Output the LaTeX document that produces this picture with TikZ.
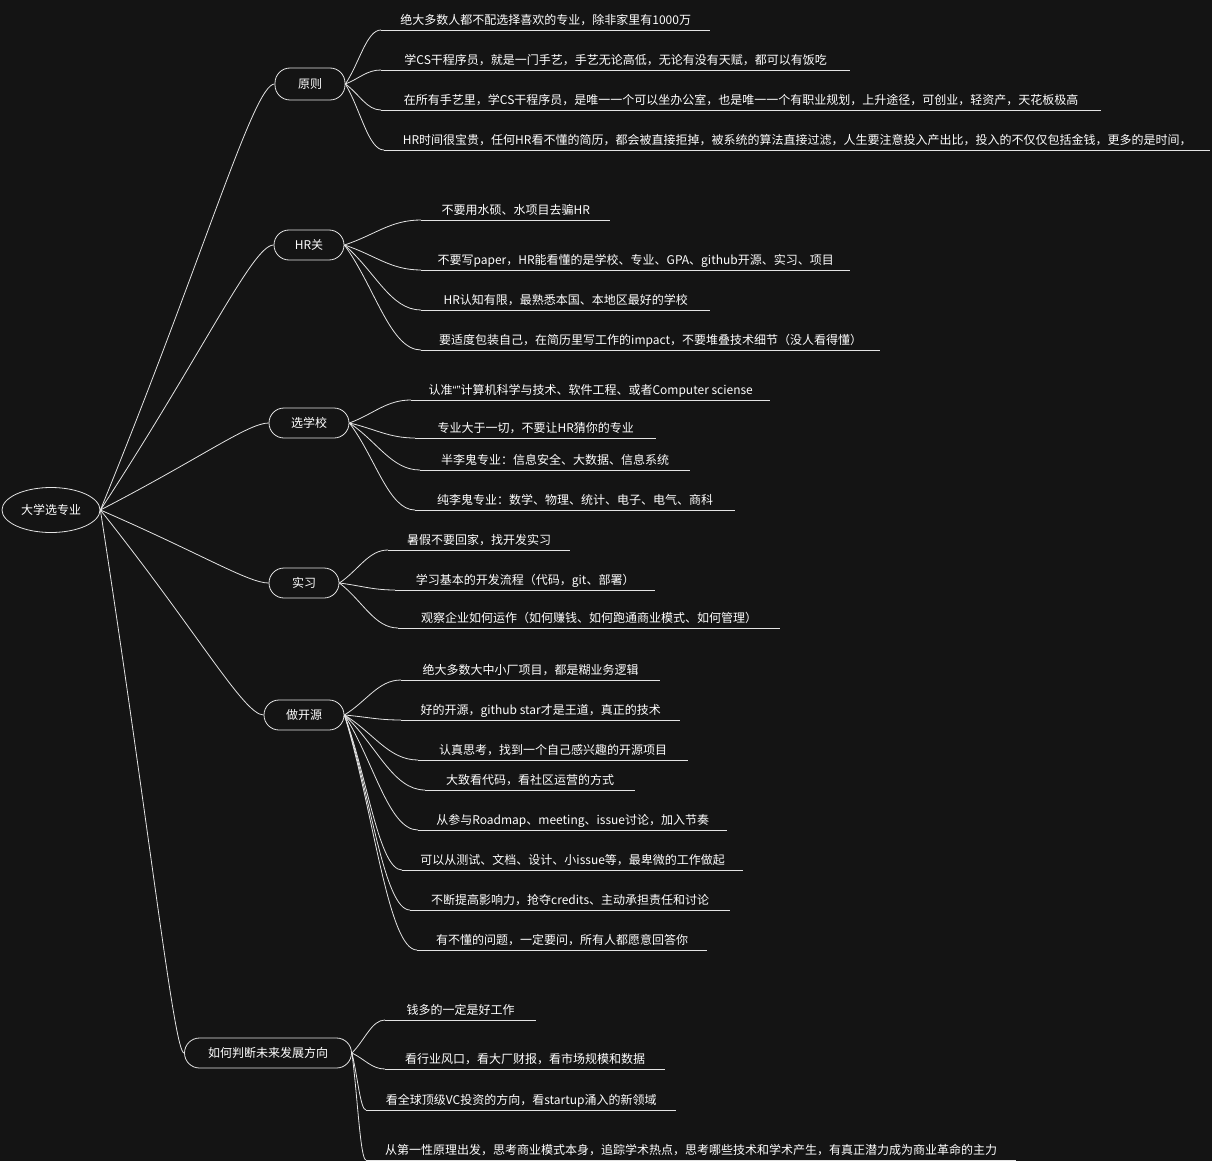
\documentclass[tikz,border=0pt]{standalone}
\usepackage{fontspec}
\setmainfont{Noto Sans CJK SC}
\newfontfamily\quotefont{Liberation Sans}
\usetikzlibrary{calc,shapes.geometric}
\definecolor{canvas}{RGB}{20,20,20}
\definecolor{ink}{RGB}{228,228,228}
\begin{document}
\begin{tikzpicture}[x=1pt,y=-1pt,
  every node/.style={text=white, font=\fontsize{12}{14}\selectfont},
  wire/.style={draw=ink, line width=0.8pt},
  % long, almost straight links from the central topic
  trunk/.style={wire, to path={let \p1=(\tikztostart), \p2=(\tikztotarget) in
      .. controls ($(\p1)!0.6!(\p2)$) and ({\x2-0.12*(\x2-\x1)},\y2) .. (\tikztotarget)}},
  % short curved links from a branch to its items
  link/.style={wire, to path={let \p1=(\tikztostart), \p2=(\tikztotarget) in
      .. controls ($(\p1)!0.4!(\p2)$) and ({\x2-0.4*(\x2-\x1)},\y2) .. (\tikztotarget)}},
  rootbox/.style={ellipse, draw=ink, line width=0.8pt, minimum width=98pt, minimum height=45pt, inner sep=0pt},
  topic/.style={rectangle, rounded corners=15pt, draw=ink, line width=0.8pt, minimum height=30pt, inner sep=0pt},
  leaf/.style={anchor=south west, inner xsep=0pt, inner ysep=2pt, text height=9pt, text depth=3pt,
      minimum width=#1,
      append after command={(\tikzlastnode.south west) edge[wire] (\tikzlastnode.south east)}},
]
\fill[canvas] (0,0) rectangle (1212,1161);
\useasboundingbox (0,0) rectangle (1212,1161);

% central topic and main branches
\node[rootbox] (root) at (51,510) {大学选专业};
\node[topic, minimum width=70pt, minimum height=32pt] (yz) at (310,84) {原则};
\node[topic, minimum width=70pt] (hr) at (309,245) {HR关};
\node[topic, minimum width=80pt] (xx) at (309,423) {选学校};
\node[topic, minimum width=70pt] (sx) at (304,583) {实习};
\node[topic, minimum width=80pt] (ky) at (304,715) {做开源};
\node[topic, minimum width=167pt] (pd) at (268,1053) {如何判断未来发展方向};

% 原则
\node[leaf=329pt] (yz1) at (381,30) {绝大多数人都不配选择喜欢的专业，除非家里有1000万};
\node[leaf=469pt] (yz2) at (381,70) {学CS干程序员，就是一门手艺，手艺无论高低，无论有没有天赋，都可以有饭吃};
\node[leaf=720pt] (yz3) at (381,110) {在所有手艺里，学CS干程序员，是唯一一个可以坐办公室，也是唯一一个有职业规划，上升途径，可创业，轻资产，天花板极高};
\node[leaf=826pt] (yz4) at (384,150) {HR时间很宝贵，任何HR看不懂的简历，都会被直接拒掉，被系统的算法直接过滤，人生要注意投入产出比，投入的不仅仅包括金钱，更多的是时间，};

% HR关
\node[leaf=189pt] (hr1) at (421,220) {不要用水硕、水项目去骗HR};
\node[leaf=429pt] (hr2) at (421,270) {不要写paper，HR能看懂的是学校、专业、GPA、github开源、实习、项目};
\node[leaf=289pt] (hr3) at (421,310) {HR认知有限，最熟悉本国、本地区最好的学校};
\node[leaf=459pt] (hr4) at (421,350) {要适度包装自己，在简历里写工作的impact，不要堆叠技术细节（没人看得懂）};

% 选学校
\node[leaf=359pt] (xx1) at (411,400) {认准{\quotefont“”}计算机科学与技术、软件工程、或者Computer sciense};
\node[leaf=241pt] (xx2) at (415,438) {专业大于一切，不要让HR猜你的专业};
\node[leaf=270pt] (xx3) at (420,470) {半李鬼专业：信息安全、大数据、信息系统};
\node[leaf=320pt] (xx4) at (415,510) {纯李鬼专业：数学、物理、统计、电子、电气、商科};

% 实习
\node[leaf=182pt] (sx1) at (388,550) {暑假不要回家，找开发实习};
\node[leaf=260pt] (sx2) at (395,590) {学习基本的开发流程（代码，git、部署）};
\node[leaf=382pt] (sx3) at (398,628) {观察企业如何运作（如何赚钱、如何跑通商业模式、如何管理）};

% 做开源
\node[leaf=259pt] (ky1) at (401,680) {绝大多数大中小厂项目，都是糊业务逻辑};
\node[leaf=279pt] (ky2) at (401,720) {好的开源，github star才是王道，真正的技术};
\node[leaf=270pt] (ky3) at (418,760) {认真思考，找到一个自己感兴趣的开源项目};
\node[leaf=210pt] (ky4) at (425,790) {大致看代码，看社区运营的方式};
\node[leaf=309pt] (ky5) at (418,830) {从参与Roadmap、meeting、issue讨论，加入节奏};
\node[leaf=341pt] (ky6) at (402,870) {可以从测试、文档、设计、小issue等，最卑微的工作做起};
\node[leaf=320pt] (ky7) at (410,910) {不断提高影响力，抢夺credits、主动承担责任和讨论};
\node[leaf=290pt] (ky8) at (417,950) {有不懂的问题，一定要问，所有人都愿意回答你};

% 如何判断未来发展方向
\node[leaf=151pt] (pd1) at (385,1020) {钱多的一定是好工作};
\node[leaf=280pt] (pd2) at (385,1069) {看行业风口，看大厂财报，看市场规模和数据};
\node[leaf=310pt] (pd3) at (366,1110) {看全球顶级VC投资的方向，看startup涌入的新领域};
\node[leaf=650pt] (pd4) at (366,1160) {从第一性原理出发，思考商业模式本身，追踪学术热点，思考哪些技术和学术产生，有真正潜力成为商业革命的主力};

% connectors from the central topic
\foreach \b in {yz,hr,xx,sx,ky,pd}
  \draw[trunk] (root.east) to (\b.west);

% connectors from each branch to its items
\foreach \b/\l in {yz/yz1,yz/yz2,yz/yz3,yz/yz4,
                   hr/hr1,hr/hr2,hr/hr3,hr/hr4,
                   xx/xx1,xx/xx2,xx/xx3,xx/xx4,
                   sx/sx1,sx/sx2,sx/sx3,
                   ky/ky1,ky/ky2,ky/ky3,ky/ky4,ky/ky5,ky/ky6,ky/ky7,ky/ky8,
                   pd/pd1,pd/pd2,pd/pd3,pd/pd4}
  \draw[link] (\b.east) to (\l.south west);
\end{tikzpicture}
\end{document}
